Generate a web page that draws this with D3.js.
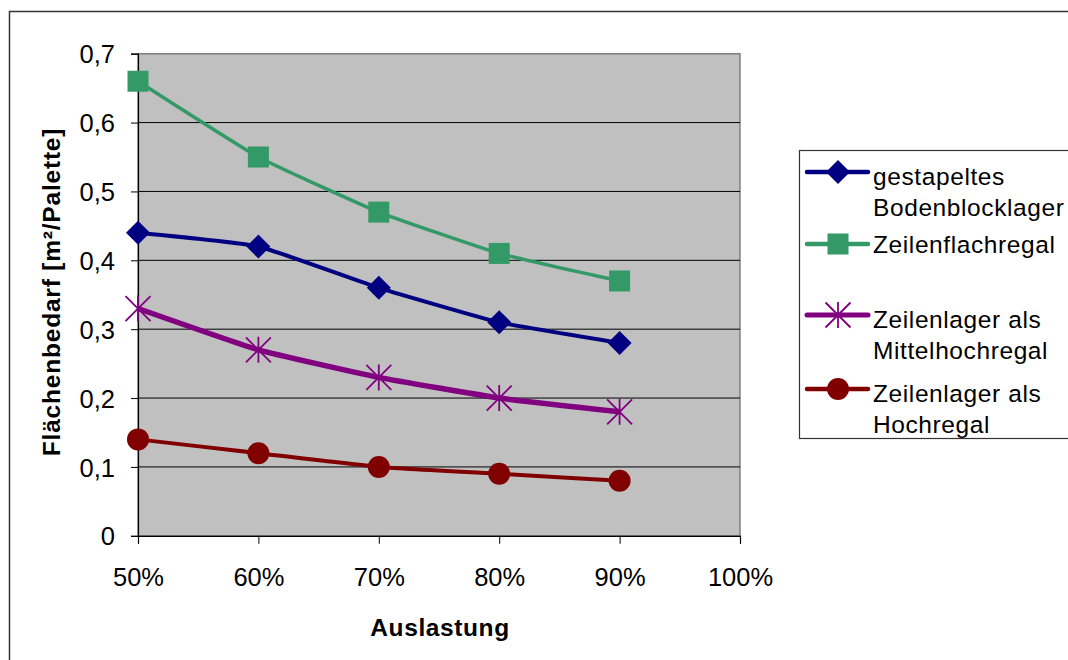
<!DOCTYPE html>
<html><head><meta charset="utf-8">
<script src="https://cdn.jsdelivr.net/npm/d3@7"></script>
<style>
html,body{margin:0;padding:0;background:#fff;}
text{font-family:"Liberation Sans",Arial,sans-serif;fill:#000;}
</style></head>
<body>
<svg id="chart" width="1068" height="660"></svg>
<script>
// ---- data ----
const categories = [50, 60, 70, 80, 90];
const xTicks = [50, 60, 70, 80, 90, 100];
const yTicks = [0, 0.1, 0.2, 0.3, 0.4, 0.5, 0.6, 0.7];
const bodenblock = [0.44, 0.42, 0.36, 0.31, 0.28];
const zeilenflach = [0.66, 0.55, 0.47, 0.41, 0.37];
const mittelhoch = [0.33, 0.27, 0.23, 0.20, 0.18];
const hochregal = [0.14, 0.12, 0.10, 0.09, 0.08];
const seriesNames = [["gestapeltes", "Bodenblocklager"], ["Zeilenflachregal"], ["Zeilenlager als", "Mittelhochregal"], ["Zeilenlager als", "Hochregal"]];
const xTitle = "Auslastung";
const yTitle = "Flächenbedarf [m²/Palette]";

const series = [
  {name: seriesNames[0], values: bodenblock, color: "#000080", marker: "diamond", width: 4},
  {name: seriesNames[1], values: zeilenflach, color: "#339966", marker: "square", width: 3.5},
  {name: seriesNames[2], values: mittelhoch, color: "#800080", marker: "star", width: 5.5},
  {name: seriesNames[3], values: hochregal, color: "#800000", marker: "circle", width: 4}
];

const svg = d3.select("#chart");
const L = 138, R = 740, T = 53.7, B = 535.8;
const x = d3.scaleLinear().domain([50, 100]).range([L, R]);
const y = d3.scaleLinear().domain([0, 0.7]).range([B, T]);

// outer frame
svg.append("rect").attr("x", 9.5).attr("y", 11.5).attr("width", 1075).attr("height", 670)
  .attr("fill", "#fff").attr("stroke", "#333").attr("stroke-width", 1.5);

// plot area
svg.append("rect").attr("x", L).attr("y", T).attr("width", R - L).attr("height", B - T)
  .attr("fill", "#C0C0C0").attr("stroke", "#808080").attr("stroke-width", 1.5);

// gridlines
svg.append("g").selectAll("line").data(yTicks.filter(d => d > 0)).join("line")
  .attr("x1", L).attr("x2", R).attr("y1", d => y(d)).attr("y2", d => y(d))
  .attr("stroke", d => d === 0.7 ? "#808080" : "#000").attr("stroke-width", 1);

// y axis
const fmt = d => d === 0 ? "0" : d3.format(".1f")(d).replace(".", ",");
const yAxis = svg.append("g").attr("transform", `translate(${L},0)`)
  .call(d3.axisLeft(y).tickValues(yTicks).tickSize(7).tickPadding(13).tickFormat(fmt));
yAxis.select(".domain").attr("stroke", "#000").attr("stroke-width", 1.2);
yAxis.selectAll(".tick line").attr("stroke", "#000");
yAxis.selectAll(".tick text").style("font-size", "25.5px").style("font-family", "Liberation Sans, Arial, sans-serif")
  .attr("fill", "#000").attr("dy", "0.36em").attr("dx", "-3");

// x axis
const xAxis = svg.append("g").attr("transform", `translate(0,${B})`)
  .call(d3.axisBottom(x).tickValues(xTicks).tickSize(8).tickPadding(24).tickFormat(d => d + "%"));
xAxis.select(".domain").attr("stroke", "#000").attr("stroke-width", 1.2);
xAxis.selectAll(".tick line").attr("stroke", "#000");
xAxis.selectAll(".tick text").style("font-size", "25.5px").style("font-family", "Liberation Sans, Arial, sans-serif")
  .attr("fill", "#000");

// axis titles
svg.append("text").attr("x", 440).attr("y", 636).attr("text-anchor", "middle")
  .style("font-size", "24.5px").style("font-weight", "bold").style("letter-spacing", "0.6px").text(xTitle);
svg.append("text").attr("transform", "translate(60,292) rotate(-90)").attr("text-anchor", "middle")
  .style("font-size", "24.5px").style("font-weight", "bold").style("letter-spacing", "0.8px").text(yTitle);

// marker drawer
function drawMarker(g, type, color) {
  if (type === "diamond") {
    g.append("path").attr("d", "M0,-12L12,0L0,12L-12,0Z").attr("fill", color);
  } else if (type === "square") {
    g.append("rect").attr("x", -10.5).attr("y", -10.5).attr("width", 21).attr("height", 21).attr("fill", color);
  } else if (type === "circle") {
    g.append("circle").attr("r", 11).attr("fill", color);
  } else if (type === "star") {
    const s = 13, d = 12.5;
    g.append("path").attr("d", `M0,${-s}L0,${s}M${-d},${-d}L${d},${d}M${-d},${d}L${d},${-d}`)
      .attr("stroke", color).attr("stroke-width", 1.8).attr("fill", "none");
  }
}

// lines + markers
const line = d3.line().x((d, i) => x(categories[i])).y(d => y(d)).curve(d3.curveCardinal.tension(0.6));
series.forEach(s => {
  svg.append("path").attr("d", line(s.values)).attr("fill", "none")
    .attr("stroke", s.color).attr("stroke-width", s.width).attr("stroke-linejoin", "round");
  s.values.forEach((v, i) => {
    const g = svg.append("g").attr("transform", `translate(${x(categories[i])},${y(v)})`);
    drawMarker(g, s.marker, s.color);
  });
});

// legend
const legend = svg.append("g");
legend.append("rect").attr("x", 799.5).attr("y", 150.5).attr("width", 300).attr("height", 288)
  .attr("fill", "#fff").attr("stroke", "#333").attr("stroke-width", 1.2);
const lineYs = [172, 244, 315, 389];
series.forEach((s, i) => {
  const ly = lineYs[i];
  legend.append("line").attr("x1", 807).attr("x2", 868).attr("y1", ly).attr("y2", ly)
    .attr("stroke", s.color).attr("stroke-width", s.width > 5 ? 5 : 4.5).attr("stroke-linecap", "round");
  const g = legend.append("g").attr("transform", `translate(838,${ly})`);
  drawMarker(g, s.marker, s.color);
  s.name.forEach((t, j) => {
    legend.append("text").attr("x", 873).attr("y", ly + (s.name.length > 1 ? 13 : 9) + j * 31)
      .style("font-size", "24.5px").style("letter-spacing", "0.6px").text(t);
  });
});
</script>
</body></html>
